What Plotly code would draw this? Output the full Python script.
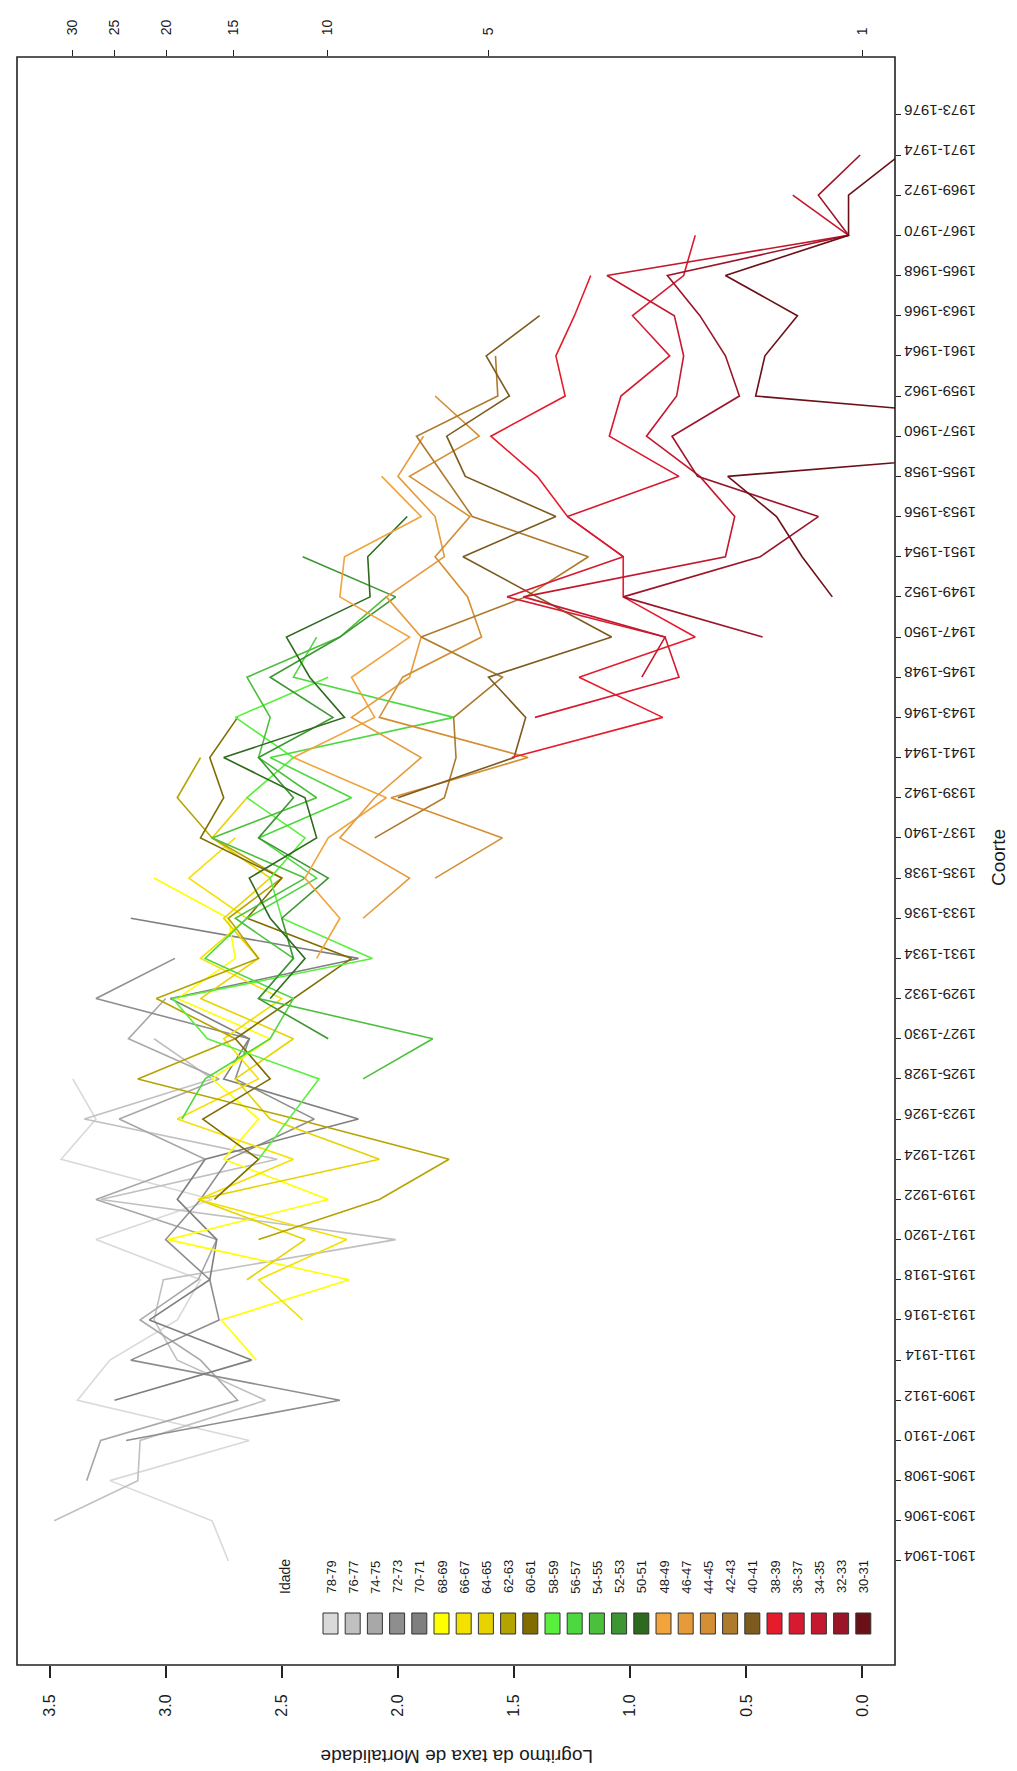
import math
import plotly.graph_objects as go

# ---------------- data ----------------
cohorts = ["1901-1904", "1903-1906", "1905-1908", "1907-1910", "1909-1912", "1911-1914",
           "1913-1916", "1915-1918", "1917-1920", "1919-1922", "1921-1924", "1923-1926",
           "1925-1928", "1927-1930", "1929-1932", "1931-1934", "1933-1936", "1935-1938",
           "1937-1940", "1939-1942", "1941-1944", "1943-1946", "1945-1948", "1947-1950",
           "1949-1952", "1951-1954", "1953-1956", "1955-1958", "1957-1960", "1959-1962",
           "1961-1964", "1963-1966", "1965-1968", "1967-1970", "1969-1972", "1971-1974",
           "1973-1976"]

ages = ["78-79", "76-77", "74-75", "72-73", "70-71", "68-69", "66-67", "64-65", "62-63",
        "60-61", "58-59", "56-57", "54-55", "52-53", "50-51", "48-49", "46-47", "44-45",
        "42-43", "40-41", "38-39", "36-37", "34-35", "32-33", "30-31"]

age_colors = ["#d9d9d9", "#c0c0c0", "#a8a8a8", "#8e8e8e", "#7f7f7f",
              "#ffff00", "#f4e100", "#e6d300", "#b5a300", "#806c00",
              "#58f03c", "#4ed840", "#4cc03c", "#3c9632", "#2e6a1e",
              "#f2a33c", "#e69a3a", "#d48f34", "#ae7a2c", "#7d5a1e",
              "#e61c2c", "#d81a30", "#c4182e", "#9c1428", "#6c1018"]

# first cohort observed for each age group (index into cohorts)
first_cohort = [0, 1, 2, 3, 4, 5, 6, 7, 8, 9, 10, 11, 12, 13, 14, 15, 16, 17, 18, 19,
                20, 21, 22, 23, 24]

v_78_79 = [2.73, 2.80, 3.24, 2.64, 3.38, 3.24, 2.95, 2.85, 3.30, 2.80, 3.45, 3.30, 3.40]
v_76_77 = [3.48, 3.12, 3.11, 2.57, 2.95, 3.05, 3.01, 2.01, 3.28, 2.52, 3.35, 2.80, 3.05]
v_74_75 = [3.34, 3.28, 2.69, 2.85, 3.11, 2.86, 2.78, 3.30, 2.83, 3.20, 2.77, 3.16, 3.00]
v_72_73 = [3.17, 2.25, 3.15, 2.77, 2.81, 3.00, 2.85, 2.73, 2.36, 2.70, 2.64, 3.30, 2.96]
v_70_71 = [3.22, 2.63, 3.07, 2.81, 2.78, 2.95, 2.83, 2.17, 2.75, 2.64, 2.98, 2.17, 3.15]
v_68_69 = [2.61, 2.76, 2.21, 2.99, 2.30, 2.75, 2.60, 2.80, 2.55, 2.95, 2.70, 2.73, 3.05]
v_66_67 = [2.41, 2.60, 2.22, 2.86, 2.45, 2.95, 2.60, 2.75, 2.50, 2.85, 2.65, 2.90, 2.70]
v_64_65 = [2.65, 2.40, 2.86, 2.08, 2.55, 2.70, 2.45, 2.85, 2.60, 2.75, 2.55, 2.80, 2.65]
v_62_63 = [2.60, 2.08, 1.78, 2.44, 3.12, 2.70, 3.04, 2.60, 2.73, 2.50, 2.80, 2.95, 2.85]
v_60_61 = [2.79, 2.60, 2.84, 2.55, 2.70, 2.45, 2.20, 2.65, 2.50, 2.85, 2.75, 2.81, 2.69]
v_58_59 = [2.60, 2.47, 2.34, 2.82, 2.97, 2.11, 2.50, 2.55, 2.40, 2.65, 2.45, 2.70, 2.30]
v_56_57 = [2.93, 2.83, 2.55, 2.45, 2.83, 2.65, 2.35, 2.60, 2.20, 2.55, 1.76, 2.45, 2.35]
v_54_55 = [2.15, 1.85, 2.60, 2.45, 2.70, 2.40, 2.80, 2.35, 2.60, 2.55, 2.65, 2.25, 2.05]
v_52_53 = [2.30, 2.60, 2.45, 2.50, 2.30, 2.60, 2.45, 2.60, 2.28, 2.55, 2.25, 2.01, 2.41]
v_50_51 = [2.55, 2.40, 2.55, 2.64, 2.35, 2.40, 2.75, 2.23, 2.38, 2.48, 2.12, 2.13, 1.96]
v_48_49 = [2.35, 2.25, 2.40, 2.30, 2.05, 2.45, 2.10, 2.20, 1.95, 2.25, 2.23, 1.90, 2.07]
v_46_47 = [2.15, 1.95, 2.25, 2.10, 1.90, 2.20, 1.95, 1.90, 2.05, 1.80, 1.84, 2.00, 1.89]
v_44_45 = [1.84, 1.55, 2.03, 1.44, 2.08, 1.98, 1.64, 1.70, 1.84, 1.69, 1.95, 1.65, 1.84]
v_42_43 = [2.10, 1.80, 1.75, 1.76, 1.55, 1.90, 1.45, 1.18, 1.68, 1.80, 1.92, 1.57, 1.58]
v_40_41 = [2.00, 1.50, 1.45, 1.61, 1.08, 1.40, 1.72, 1.32, 1.71, 1.79, 1.52, 1.62, 1.39]
v_38_39 = [1.51, 0.86, 1.22, 0.72, 1.03, 1.03, 1.27, 1.40, 1.60, 1.28, 1.32, 1.24, 1.17]
v_36_37 = [1.41, 0.79, 0.85, 1.53, 1.03, 1.27, 0.79, 1.09, 1.04, 0.83, 0.99, 0.77, 0.72]
v_34_35 = [0.95, 0.85, 1.46, 0.59, 0.55, 0.70, 0.93, 0.80, 0.77, 0.81, 1.10, 0.06, 0.30]
v_32_33 = [0.43, 1.03, 0.44, 0.19, 0.71, 0.82, 0.53, 0.59, 0.70, 0.84, 0.06, 0.19, 0.01]
v_30_31 = [0.13, 0.26, 0.37, 0.58, -1.55, 0.46, 0.42, 0.28, 0.59, 0.06, 0.06, -0.16, -0.40]

series = [v_78_79, v_76_77, v_74_75, v_72_73, v_70_71, v_68_69, v_66_67, v_64_65, v_62_63,
          v_60_61, v_58_59, v_56_57, v_54_55, v_52_53, v_50_51, v_48_49, v_46_47, v_44_45,
          v_42_43, v_40_41, v_38_39, v_36_37, v_34_35, v_32_33, v_30_31]

bottom_ticks = [0.0, 0.5, 1.0, 1.5, 2.0, 2.5, 3.0, 3.5]
top_ticks = [1, 5, 10, 15, 20, 25, 30]

# ---------------- layout constants ----------------
W, H = 1017, 1771
ML, MR, MT, MB = 9, 130, 49, 114
PW, PH = W - ML - MR, H - MT - MB
FONT = "Liberation Sans, Arial, Helvetica, sans-serif"


def px_x(x):  # pixel -> paper
    return (x - ML) / PW


def px_y(y):
    return (H - MB - y) / PH


fig = go.Figure()

for name, col, start, vals in zip(ages, age_colors, first_cohort, series):
    fig.add_trace(go.Scatter(
        x=vals, y=cohorts[start:start + len(vals)], mode="lines", name=name,
        line=dict(color=col, width=1.6), hoverinfo="skip", showlegend=False))

# invisible trace to carry the top (rate) axis
fig.add_trace(go.Scatter(x=[math.log(top_ticks[0])], y=[cohorts[0]], xaxis="x2",
                         mode="markers", marker=dict(opacity=0), showlegend=False,
                         hoverinfo="skip"))

xr = [3.5 + 0.14, -0.14]
fig.update_layout(
    width=W, height=H, margin=dict(l=ML, r=MR, t=MT, b=MB),
    paper_bgcolor="white", plot_bgcolor="white",
    font=dict(family=FONT, color="#1a1a1a"),
    xaxis=dict(range=xr, tickvals=bottom_ticks,
               ticktext=[f"{t:.1f}" for t in bottom_ticks],
               tickangle=-90, ticks="outside", ticklen=12, tickwidth=1.5,
               tickcolor="#222", tickfont=dict(size=16), showgrid=False,
               zeroline=False, showline=False, ticklabelstandoff=10),
    xaxis2=dict(range=xr, overlaying="x", side="top",
                tickvals=[math.log(t) for t in top_ticks],
                ticktext=[str(t) for t in top_ticks],
                tickangle=-90, ticks="outside", ticklen=6, tickwidth=1.2,
                tickcolor="#222", tickfont=dict(size=14), showgrid=False,
                zeroline=False, showline=False, ticklabelstandoff=12),
    yaxis=dict(type="category", categoryorder="array", categoryarray=cohorts,
               range=[-2.59, 37.44], side="right", tickangle=180,
               ticks="outside", ticklen=5, tickwidth=1.2, tickcolor="#222",
               tickfont=dict(size=15), showgrid=False, zeroline=False,
               showline=False, ticklabelstandoff=72),
)

shapes = [dict(type="rect", xref="paper", yref="paper", x0=0, x1=1, y0=0, y1=1,
               line=dict(color="#222", width=1.6), fillcolor="rgba(0,0,0,0)")]
annotations = [
    dict(text="Logritmo da taxa de Mortalidade", xref="paper", yref="paper",
         x=px_x(449), y=px_y(1748), showarrow=False, textangle=180,
         font=dict(size=19), xanchor="center", yanchor="middle"),
    dict(text="Coorte", xref="paper", yref="paper", x=px_x(990), y=px_y(850),
         showarrow=False, textangle=-90, font=dict(size=19),
         xanchor="center", yanchor="middle"),
    dict(text="Idade", xref="paper", yref="paper", x=px_x(277), y=px_y(1569),
         showarrow=False, textangle=-90, font=dict(size=14),
         xanchor="center", yanchor="middle"),
]

# legend (squares with rotated labels)
LEG_X0, LEG_STEP, SQ_W = 315, 22.2, 15
for i, (name, col) in enumerate(zip(ages, age_colors)):
    x0 = LEG_X0 + i * LEG_STEP
    shapes.append(dict(type="rect", xref="paper", yref="paper",
                       x0=px_x(x0), x1=px_x(x0 + SQ_W), y0=px_y(1626), y1=px_y(1605),
                       line=dict(color="#333", width=1), fillcolor=col))
    annotations.append(dict(text=name, xref="paper", yref="paper",
                            x=px_x(x0 + SQ_W / 2), y=px_y(1569), showarrow=False,
                            textangle=-90, font=dict(size=13),
                            xanchor="center", yanchor="middle"))

fig.update_layout(shapes=shapes, annotations=annotations)
fig.write_html("out.html")
